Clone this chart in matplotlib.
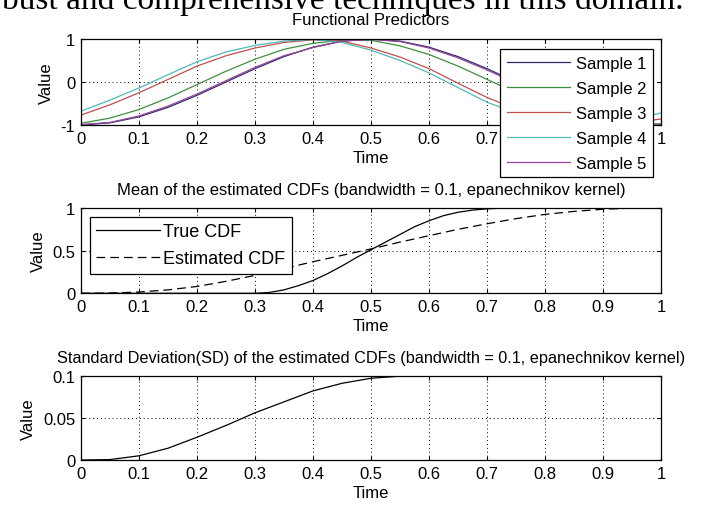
import numpy as np
import matplotlib.pyplot as plt

plt.rcParams['font.family'] = ['Liberation Sans', 'DejaVu Sans']

# time grid for the functional predictors and estimated CDF
t = np.round(np.arange(0, 1.0001, 0.05), 2)

sample1 = [-1.00, -0.95, -0.81, -0.59, -0.31, 0.00, 0.31, 0.59, 0.81, 0.95, 1.00,
           0.95, 0.81, 0.59, 0.31, 0.00, -0.31, -0.59, -0.81, -0.95, -1.00]
sample2 = [-0.96, -0.84, -0.64, -0.37, -0.06, 0.25, 0.53, 0.76, 0.90, 0.97, 0.97,
           0.84, 0.64, 0.37, 0.06, -0.25, -0.54, -0.77, -0.93, -0.99, -0.97]
sample3 = [-0.77, -0.53, -0.25, 0.06, 0.37, 0.61, 0.79, 0.92, 0.98, 0.95, 0.79,
           0.58, 0.31, -0.03, -0.36, -0.63, -0.84, -0.96, -0.99, -0.95, -0.86]
sample4 = [-0.68, -0.42, -0.14, 0.17, 0.47, 0.70, 0.85, 0.95, 0.99, 0.92, 0.74,
           0.50, 0.21, -0.13, -0.47, -0.72, -0.89, -0.98, -0.98, -0.88, -0.72]
sample5 = [-0.99, -0.94, -0.79, -0.56, -0.28, 0.03, 0.34, 0.61, 0.80, 0.95, 0.99,
           0.94, 0.79, 0.56, 0.28, -0.03, -0.34, -0.61, -0.83, -0.96, -1.00]
samples = [sample1, sample2, sample3, sample4, sample5]
sample_names = ['Sample 1', 'Sample 2', 'Sample 3', 'Sample 4', 'Sample 5']
sample_colors = ['#2a2a6a', '#3f8f3f', '#c0504d', '#4fb8b8', '#93479a']

true_x = [0, 0.3, 0.325, 0.35, 0.375, 0.4, 0.425, 0.45, 0.475, 0.5, 0.525, 0.55,
          0.575, 0.6, 0.625, 0.65, 0.675, 0.7, 0.725, 0.75, 1.0]
true_cdf = [0, 0, 0.01, 0.04, 0.09, 0.15, 0.23, 0.32, 0.42, 0.51, 0.60, 0.69,
            0.78, 0.85, 0.91, 0.95, 0.975, 0.99, 0.997, 1.0, 1.0]
est_cdf = [0, 0.003, 0.015, 0.04, 0.08, 0.14, 0.21, 0.29, 0.37, 0.445, 0.52,
           0.60, 0.675, 0.75, 0.815, 0.875, 0.925, 0.96, 0.985, 0.998, 1.0]

sd_cdf = [0, 0.0005, 0.005, 0.014, 0.027, 0.041, 0.056, 0.069, 0.082, 0.091, 0.097,
          0.0995, 0.1, 0.1, 0.1, 0.1, 0.1, 0.1, 0.1, 0.1, 0.1]

xticks = [0, 0.1, 0.2, 0.3, 0.4, 0.5, 0.6, 0.7, 0.8, 0.9, 1]
xticklabels = ['0', '0.1', '0.2', '0.3', '0.4', '0.5', '0.6', '0.7', '0.8', '0.9', '1']

fs = 12
fig = plt.figure(figsize=(7.02, 5.06), dpi=100)
# page text above the figure, cut off at the top edge
fig.text(0.003, 1 - 9 / 506, 'bust and comprehensive techniques in this domain.',
         family='Liberation Serif', fontsize=24, ha='left', va='baseline')

ax1 = fig.add_axes([0.1154, 0.7510, 0.8262, 0.1700])
ax2 = fig.add_axes([0.1154, 0.4184, 0.8262, 0.1686])
ax3 = fig.add_axes([0.1154, 0.0889, 0.8262, 0.1666])


def matlab_style(ax, yticks, yticklabels, title, tpad):
    ax.set_xlim(0, 1)
    ax.set_xticks(xticks)
    ax.set_xticklabels(xticklabels)
    ax.set_yticks(yticks)
    ax.set_yticklabels(yticklabels)
    ax.tick_params(direction='in', top=True, right=True, length=3, width=0.8,
                   labelsize=fs, pad=4)
    ax.grid(True, color='black', linestyle=(0, (1, 3)), linewidth=0.7)
    for s in ax.spines.values():
        s.set_linewidth(0.9)
    ax.set_title(title, fontsize=fs, pad=tpad)
    ax.set_xlabel('Time', fontsize=fs, labelpad=3)
    ax.set_ylabel('Value', fontsize=fs, labelpad=5)


for vals, name, col in zip(samples, sample_names, sample_colors):
    ax1.plot(t, vals, color=col, linewidth=0.9, label=name)
ax1.set_ylim(-1, 1)
matlab_style(ax1, [-1, 0, 1], ['-1', '0', '1'], 'Functional Predictors', 11)
leg1 = ax1.legend(loc='upper right', bbox_to_anchor=(0.986, 0.884), fontsize=fs,
                  frameon=True, fancybox=False, framealpha=1, edgecolor='black',
                  handlelength=3.8, handletextpad=0.35, labelspacing=0.6,
                  borderpad=0.4, borderaxespad=0)
leg1.get_frame().set_linewidth(0.9)

ax2.plot(true_x, true_cdf, color='black', linewidth=0.9, label='True CDF')
ax2.plot(t, est_cdf, color='black', linewidth=0.9, linestyle=(0, (7, 4)),
         label='Estimated CDF')
ax2.set_ylim(0, 1)
matlab_style(ax2, [0, 0.5, 1], ['0', '0.5', '1'],
             'Mean of the estimated CDFs (bandwidth = 0.1, epanechnikov kernel)', 10)
leg2 = ax2.legend(loc='upper left', bbox_to_anchor=(0.0155, 0.894), fontsize=fs + 1,
                  frameon=True, fancybox=False, framealpha=1, edgecolor='black',
                  handlelength=3.5, handletextpad=0.2, labelspacing=0.55,
                  borderpad=0.35, borderaxespad=0)
leg2.get_frame().set_linewidth(0.9)

ax3.plot(t, sd_cdf, color='black', linewidth=0.9)
ax3.set_ylim(0, 0.1)
matlab_style(ax3, [0, 0.05, 0.1], ['0', '0.05', '0.1'],
             'Standard Deviation(SD) of the estimated CDFs (bandwidth = 0.1, epanechnikov kernel)',
             10)
ax3.title.set_fontsize(fs - 0.3)

fig.savefig('out.png', dpi=100)
